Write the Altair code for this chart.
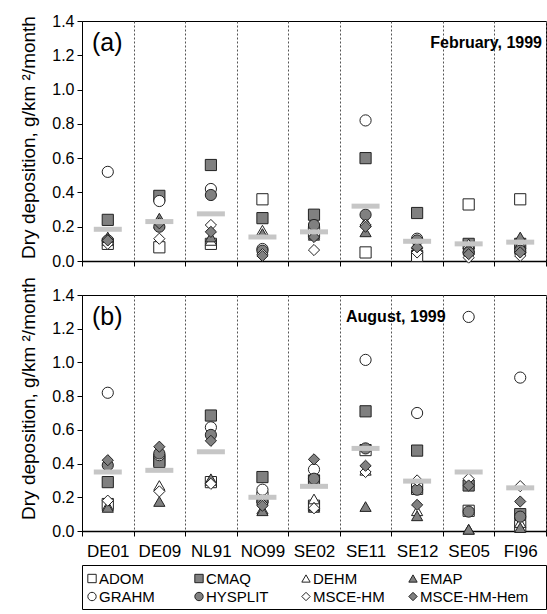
import altair as alt
import pandas as pd

sites = ["DE01", "DE09", "NL91", "NO99", "SE02", "SE11", "SE12", "SE05", "FI96"]
models = ["ADOM", "CMAQ", "DEHM", "EMAP", "GRAHM", "HYSPLIT", "MSCE-HM", "MSCE-HM-Hem"]
shapes = ["square", "square", "triangle-up", "triangle-up", "circle", "circle", "diamond", "diamond"]
fills = ["white", "#808080", "white", "#808080", "white", "#808080", "white", "#808080"]

# February 1999 (panel a), values per model in site order
feb_adom = [0.10, 0.08, 0.10, 0.36, 0.17, 0.05, 0.03, 0.33, 0.36]
feb_cmaq = [0.24, 0.38, 0.56, 0.25, 0.27, 0.60, 0.28, 0.10, 0.10]
feb_dehm = [0.12, 0.22, 0.12, 0.18, 0.16, 0.23, 0.08, 0.10, 0.10]
feb_emap = [0.14, 0.25, 0.14, 0.16, 0.15, 0.17, 0.10, 0.08, 0.14]
feb_grahm = [0.52, 0.35, 0.42, 0.07, 0.19, 0.82, 0.13, 0.05, 0.05]
feb_hysplit = [0.12, 0.20, 0.385, 0.06, 0.21, 0.27, 0.12, 0.05, 0.06]
feb_msce = [0.10, 0.13, 0.21, 0.04, 0.064, 0.21, 0.05, 0.02, 0.03]
feb_msce_hem = [0.12, 0.22, 0.17, 0.03, 0.14, 0.20, 0.08, 0.04, 0.05]
feb_mean = [0.185, 0.23, 0.275, 0.14, 0.17, 0.32, 0.115, 0.10, 0.11]

# August 1999 (panel b)
aug_adom = [0.16, 0.42, 0.29, 0.20, 0.15, 0.48, 0.25, 0.12, 0.03]
aug_cmaq = [0.29, 0.41, 0.685, 0.32, 0.30, 0.71, 0.477, 0.27, 0.10]
aug_dehm = [0.15, 0.27, 0.30, 0.13, 0.19, 0.36, 0.12, 0.01, 0.05]
aug_emap = [0.14, 0.175, 0.31, 0.12, 0.14, 0.145, 0.09, 0.01, 0.02]
aug_grahm = [0.82, 0.45, 0.615, 0.245, 0.365, 1.015, 0.70, 1.27, 0.91]
aug_hysplit = [0.39, 0.46, 0.57, 0.17, 0.31, 0.49, 0.245, 0.115, 0.085]
aug_msce = [0.18, 0.235, 0.28, 0.16, 0.135, 0.35, 0.30, 0.31, 0.266]
aug_msce_hem = [0.42, 0.50, 0.535, 0.15, 0.425, 0.387, 0.155, 0.27, 0.175]
aug_mean = [0.35, 0.36, 0.47, 0.20, 0.265, 0.49, 0.296, 0.35, 0.256]

feb = [feb_adom, feb_cmaq, feb_dehm, feb_emap, feb_grahm, feb_hysplit, feb_msce, feb_msce_hem]
aug = [aug_adom, aug_cmaq, aug_dehm, aug_emap, aug_grahm, aug_hysplit, aug_msce, aug_msce_hem]

y_ticks = [0.0, 0.2, 0.4, 0.6, 0.8, 1.0, 1.2, 1.4]
y_title = "Dry deposition, g/km ²/month"

FONT = "Liberation Sans"
W = 464


def long_df(series):
    rows = []
    for m, vals in zip(models, series):
        for s, v in zip(sites, vals):
            rows.append({"model": m, "site": s, "value": v})
    return pd.DataFrame(rows)


shape_enc = alt.Shape("model:N", scale=alt.Scale(domain=models, range=shapes), legend=None)
fill_enc = alt.Fill("model:N", scale=alt.Scale(domain=models, range=fills), legend=None)


def panel(series, means, label, month, month_x, month_align, height, show_labels, title_y):
    xaxis = alt.Axis(
        title=None, labels=show_labels, labelFontSize=17, labelPadding=7, labelAngle=0,
        labelColor="black", tickBand="extent", ticks=True, tickSize=5, tickColor="black",
        grid=True, gridDash=[2, 2], gridColor="#555555", gridWidth=1,
        domainColor="black", domainWidth=1.5,
    )
    x = alt.X("site:N", sort=sites,
              scale=alt.Scale(type="band", domain=sites, paddingInner=0, paddingOuter=0),
              axis=xaxis)
    y = alt.Y("value:Q", scale=alt.Scale(domain=[0, 1.4], nice=False),
              axis=alt.Axis(title=y_title, values=y_ticks, format=".1f", grid=False,
                            labelFontSize=16, labelPadding=3, labelColor="black",
                            tickSize=5, tickColor="black", domainColor="black",
                            titleFontSize=19, titleFontWeight="normal", titleColor="black",
                            titlePadding=13, titleY=title_y))
    pts = alt.Chart(long_df(series)).mark_point(
        filled=True, stroke="#222222", strokeWidth=1, size=125, opacity=1
    ).encode(x=x, y=y, shape=shape_enc, fill=fill_enc)
    mdf = pd.DataFrame({"site": sites, "value": means})
    bars = alt.Chart(mdf).mark_tick(
        orient="horizontal", thickness=5, size=28, color="#c6c6c6", opacity=1
    ).encode(x=x, y=y)
    lab = alt.Chart(pd.DataFrame({"t": [label]})).mark_text(
        align="left", baseline="middle", fontSize=25, font=FONT, color="black"
    ).encode(text="t:N", x=alt.value(10), y=alt.value(22))
    mon = alt.Chart(pd.DataFrame({"t": [month]})).mark_text(
        align=month_align, baseline="middle", fontSize=16, fontWeight="bold", font=FONT, color="black"
    ).encode(text="t:N", x=alt.value(month_x), y=alt.value(22))
    return alt.layer(pts, bars, lab, mon).properties(width=W, height=height)


pa = panel(feb, feb_mean, "(a)", "February, 1999", W - 4, "right", 240, False, 116)
pb = panel(aug, aug_mean, "(b)", "August, 1999", 264, "left", 236, True, 103)

leg_df = pd.DataFrame({
    "model": models,
    "col": [i % 4 for i in range(len(models))],
    "row": [i // 4 for i in range(len(models))],
})
lx = alt.X("col:Q", scale=alt.Scale(domain=[-0.0935, 4.243], nice=False, zero=False), axis=None)
ly = alt.Y("row:Q", scale=alt.Scale(domain=[-0.75, 1.694], nice=False, zero=False, reverse=True), axis=None)
leg_base = alt.Chart(leg_df)
leg_pts = leg_base.mark_point(filled=True, stroke="#222222", strokeWidth=1, size=70, opacity=1).encode(
    x=lx, y=ly, shape=shape_enc, fill=fill_enc)
leg_txt = leg_base.mark_text(align="left", baseline="middle", dx=7, fontSize=15, font=FONT, color="black").encode(
    x=lx, y=ly, text="model:N")
legend = alt.layer(leg_pts, leg_txt).properties(width=W, height=44)

chart = alt.vconcat(pa, pb, legend, spacing=34, bounds="flush").properties(
    padding={"left": 19, "top": 12, "right": 0, "bottom": 4}
).configure(font=FONT).configure_view(stroke="black", strokeWidth=1)

chart.save("out.html", embed_options={"renderer": "svg", "actions": False})
